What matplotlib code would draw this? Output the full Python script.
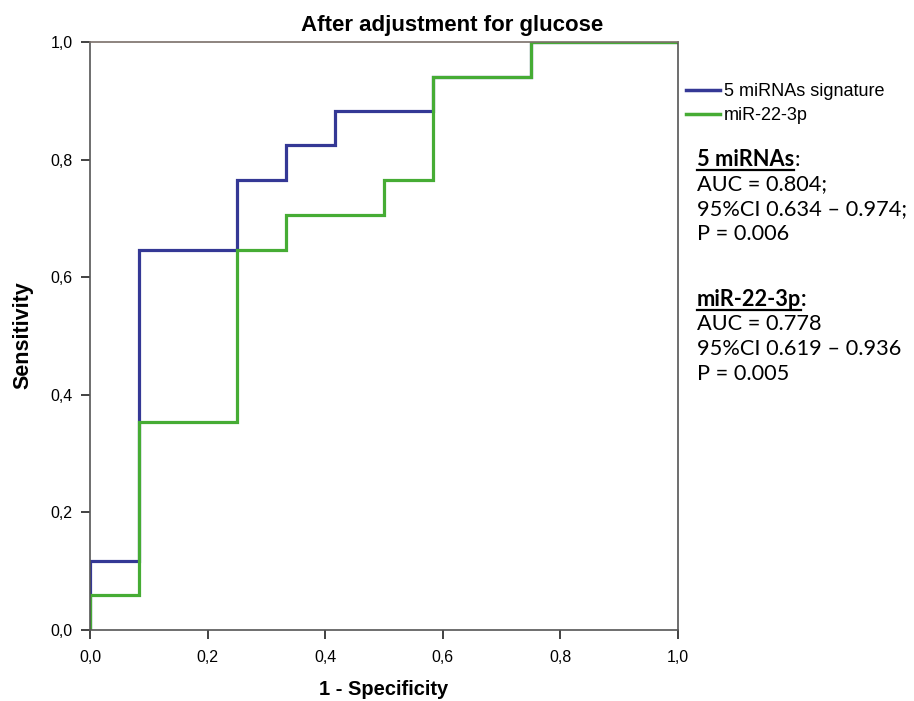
import matplotlib
matplotlib.use("Agg")
import matplotlib.pyplot as plt
from matplotlib.lines import Line2D

# ROC step data (1 - specificity, sensitivity)
fpr_sig = [0.0, 0.0, 0.083, 0.083, 0.25, 0.25, 0.333, 0.333, 0.417, 0.417, 0.583, 0.583, 0.75, 0.75, 1.0]
tpr_sig = [0.0, 0.118, 0.118, 0.647, 0.647, 0.765, 0.765, 0.824, 0.824, 0.882, 0.882, 0.941, 0.941, 1.0, 1.0]
fpr_mir = [0.0, 0.0, 0.083, 0.083, 0.25, 0.25, 0.333, 0.333, 0.5, 0.5, 0.583, 0.583, 0.75, 0.75, 1.0]
tpr_mir = [0.0, 0.059, 0.059, 0.353, 0.353, 0.647, 0.647, 0.706, 0.706, 0.765, 0.765, 0.941, 0.941, 1.0, 1.0]
series_labels = ["5 miRNAs signature", "miR-22-3p"]
ticks = [0.0, 0.2, 0.4, 0.6, 0.8, 1.0]
tick_labels = ["0,0", "0,2", "0,4", "0,6", "0,8", "1,0"]

blue = "#343895"
green = "#46AC34"
W, H = 914, 701

fig = plt.figure(figsize=(9.14, 7.01), dpi=100)
ax = fig.add_axes([90/W, 1-630/H, (678-90)/W, (630-42)/H])

ax.plot(fpr_sig, tpr_sig, color=blue, lw=2.3, label=series_labels[0], solid_joinstyle="miter")
ax.plot(fpr_mir, tpr_mir, color=green, lw=2.3, label=series_labels[1], solid_joinstyle="miter")

ax.set_xlim(0, 1)
ax.set_ylim(0, 1)
ax.set_xticks(ticks)
ax.set_yticks(ticks)
ax.set_xticklabels(tick_labels, fontfamily="Liberation Sans", fontsize=11.5)
ax.set_yticklabels(tick_labels, fontfamily="Liberation Sans", fontsize=11.5)
ax.tick_params(direction="out", length=6.5, width=1.3, color="#333333")
ax.tick_params(axis="x", pad=8)
ax.tick_params(axis="y", pad=6)
for s in ax.spines.values():
    s.set_color("#555555")
    s.set_linewidth(1.2)
ax.spines["top"].set_color("#7a706a")

ax.set_xlabel("1 - Specificity", fontfamily="Liberation Sans", fontweight="bold", fontsize=14.5, labelpad=11)
fig.text(23/W, 1-335/H, "Sensitivity", fontfamily="Liberation Sans", fontweight="bold",
         fontsize=15.5, rotation=90, ha="center", va="center")
fig.text(452/W, 1-25/H, "After adjustment for glucose", fontfamily="Liberation Sans",
         fontweight="bold", fontsize=16, ha="center", va="center")

# legend
handles = [Line2D([], [], color=blue, lw=2.5), Line2D([], [], color=green, lw=2.5)]
fig.legend(handles, series_labels, loc="upper left", bbox_to_anchor=(686/W, 1-83/H),
           frameon=False, prop={"family": "Liberation Sans", "size": 13},
           handlelength=1.9, handletextpad=0.2, labelspacing=0.38, borderaxespad=0, borderpad=0)

# annotation text
fs = 15.7
fam = "Lato"
x0 = 697/W
lines = [
    ("5 miRNAs", ":", "normal", 160),
    ("AUC = 0.804;", None, None, 184.5),
    ("95%CI 0.634 \u2013 0.974;", None, None, 209),
    ("P = 0.006", None, None, 233.5),
    ("miR-22-3p", ":", "bold", 300),
    ("AUC = 0.778", None, None, 324.5),
    ("95%CI 0.619 \u2013 0.936", None, None, 349),
    ("P = 0.005", None, None, 373.5),
]
fig.canvas.draw()
renderer = fig.canvas.get_renderer()
for txt, suffix, sw, ypx in lines:
    y = 1 - ypx/H
    if suffix is not None:
        t = fig.text(x0, y, txt, fontfamily=fam, fontweight="bold", fontsize=fs, va="center", ha="left")
        bb = t.get_window_extent(renderer=renderer)
        x1 = bb.x1 / fig.bbox.width
        fig.text(x1, y, suffix, fontfamily=fam, fontweight=sw, fontsize=fs, va="center", ha="left")
        yl = (bb.y0 + 0.5) / fig.bbox.height
        fig.add_artist(Line2D([bb.x0/fig.bbox.width, x1], [yl, yl], color="black", lw=1.6))
    else:
        fig.text(x0, y, txt, fontfamily=fam, fontsize=fs, va="center", ha="left")

fig.savefig("out.png", dpi=100)
